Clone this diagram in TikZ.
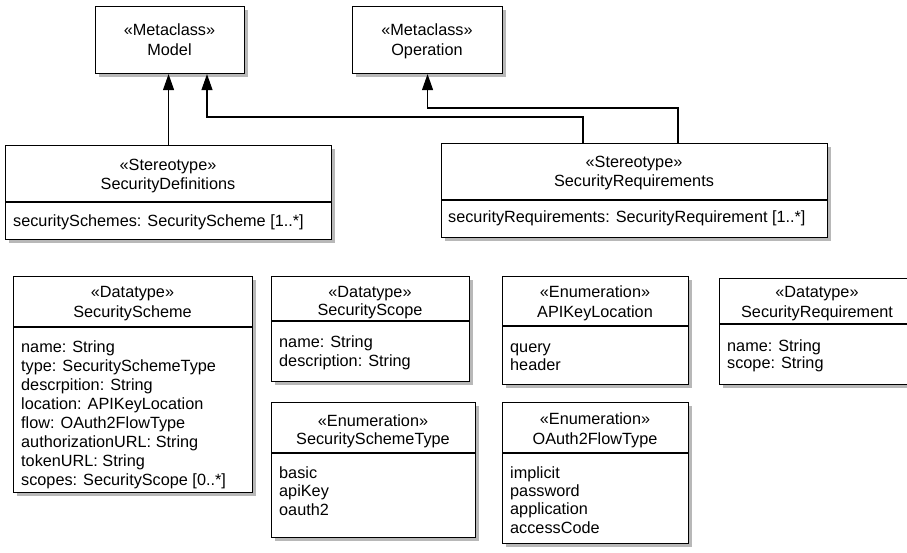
\documentclass[tikz,border=0pt]{standalone}
\usepackage{fontspec}
\setmainfont{Liberation Sans}
\usetikzlibrary{shadows,arrows.meta}

% one attribute/literal per line, starting at a given baseline
\newcommand\umlattrs[5]{%
  \foreach \t [count=\i from 0] in {#5}
    \node[attr] (#1-\i) at (#2, #3+#4*\i) {\t};}

\begin{document}
\begin{tikzpicture}[x=1pt,y=-1pt,
  box/.style={draw=black, line width=1.1pt, fill=white, inner sep=0pt, anchor=north west,
    drop shadow={shadow xshift=3pt, shadow yshift=-3pt, fill=black!28, opacity=1}},
  txt/.style={inner sep=0pt, font=\fontsize{16.25}{19}\selectfont},
  head/.style={txt, anchor=base},
  attr/.style={txt, anchor=base west},
  sep/.style={line width=1.1pt},
  gen/.style={line width=1.1pt, -{Triangle[length=16pt,width=11pt]}}]

\useasboundingbox (0,0) rectangle (907,553);

% ---- metaclasses
\node[box, minimum width=149pt, minimum height=67pt] (model) at (95,6) {};
\node[head] (model-s) at (169.5,36) {«Metaclass»};
\node[head] (model-n) at (169.5,56) {Model};

\node[box, minimum width=150pt, minimum height=67pt] (operation) at (352,6) {};
\node[head] (operation-s) at (427,36) {«Metaclass»};
\node[head] (operation-n) at (427,56) {Operation};

% ---- stereotypes
\node[box, minimum width=326pt, minimum height=94pt] (secdef) at (5,145) {};
\draw[sep] (5,202) -- (331,202);
\node[head] (secdef-s) at (168,171) {«Stereotype»};
\node[head] (secdef-n) at (168,190) {SecurityDefinitions};
\node[attr] (secdef-a) at (13,227) {securitySchemes: SecurityScheme [1..*]};

\node[box, minimum width=386pt, minimum height=94pt] (secreq) at (441,143) {};
\draw[sep] (441,200) -- (827,200);
\node[head] (secreq-s) at (634,168) {«Stereotype»};
\node[head] (secreq-n) at (634,187) {SecurityRequirements};
\node[attr] (secreq-a) at (448,223) {securityRequirements: SecurityRequirement [1..*]};

% ---- data types and enumerations
\node[box, minimum width=239pt, minimum height=216pt] (scheme) at (13,276) {};
\draw[sep] (13,327) -- (252,327);
\node[head] (scheme-s) at (132.5,298) {«Datatype»};
\node[head] (scheme-n) at (132.5,317) {SecurityScheme};
\umlattrs{scheme}{21}{352}{19}{name: String, type: SecuritySchemeType, descrpition: String,
  location: APIKeyLocation, flow: OAuth2FlowType, authorizationURL: String,
  tokenURL: String, {scopes: SecurityScope [0..*]}}

\node[box, minimum width=198pt, minimum height=105pt] (scope) at (271,276) {};
\draw[sep] (271,321) -- (469,321);
\node[head] (scope-s) at (370,297) {«Datatype»};
\node[head] (scope-n) at (370,315) {SecurityScope};
\umlattrs{scope}{279}{347}{19}{name: String, description: String}

\node[box, minimum width=204pt, minimum height=135pt] (schemetype) at (271,402) {};
\draw[sep] (271,453) -- (475,453);
\node[head] (schemetype-s) at (373,426) {«Enumeration»};
\node[head] (schemetype-n) at (373,444) {SecuritySchemeType};
\umlattrs{schemetype}{279}{478}{18.5}{basic, apiKey, oauth2}

\node[box, minimum width=186pt, minimum height=108pt] (apikey) at (502,276) {};
\draw[sep] (502,326) -- (688,326);
\node[head] (apikey-s) at (595,297) {«Enumeration»};
\node[head] (apikey-n) at (595,317) {APIKeyLocation};
\umlattrs{apikey}{510}{352}{18.5}{query, header}

\node[box, minimum width=196pt, minimum height=106pt] (reqtype) at (719,278) {};
\draw[sep] (719,324) -- (915,324);
\node[head] (reqtype-s) at (817,298) {«Datatype»};
\node[head] (reqtype-n) at (817,317) {SecurityRequirement};
\umlattrs{reqtype}{727}{351}{17.5}{name: String, scope: String}

\node[box, minimum width=186pt, minimum height=141pt] (flow) at (502,402) {};
\draw[sep] (502,453) -- (688,453);
\node[head] (flow-s) at (595,424) {«Enumeration»};
\node[head] (flow-n) at (595,444) {OAuth2FlowType};
\umlattrs{flow}{510}{478}{18.4}{implicit, password, application, accessCode}

% ---- generalizations
\draw[gen] (secdef.north) -- (secdef.north |- model.south);

\coordinate (bendA1) at (583,117);
\coordinate (bendA2) at (207,117);
\draw[gen] (secreq.north -| bendA1) -- (bendA1) -- (bendA2) -- (bendA2 |- model.south);

\coordinate (bendB1) at (678,108);
\draw[gen] (secreq.north -| bendB1) -- (bendB1) -| (operation.south);
\end{tikzpicture}
\end{document}
